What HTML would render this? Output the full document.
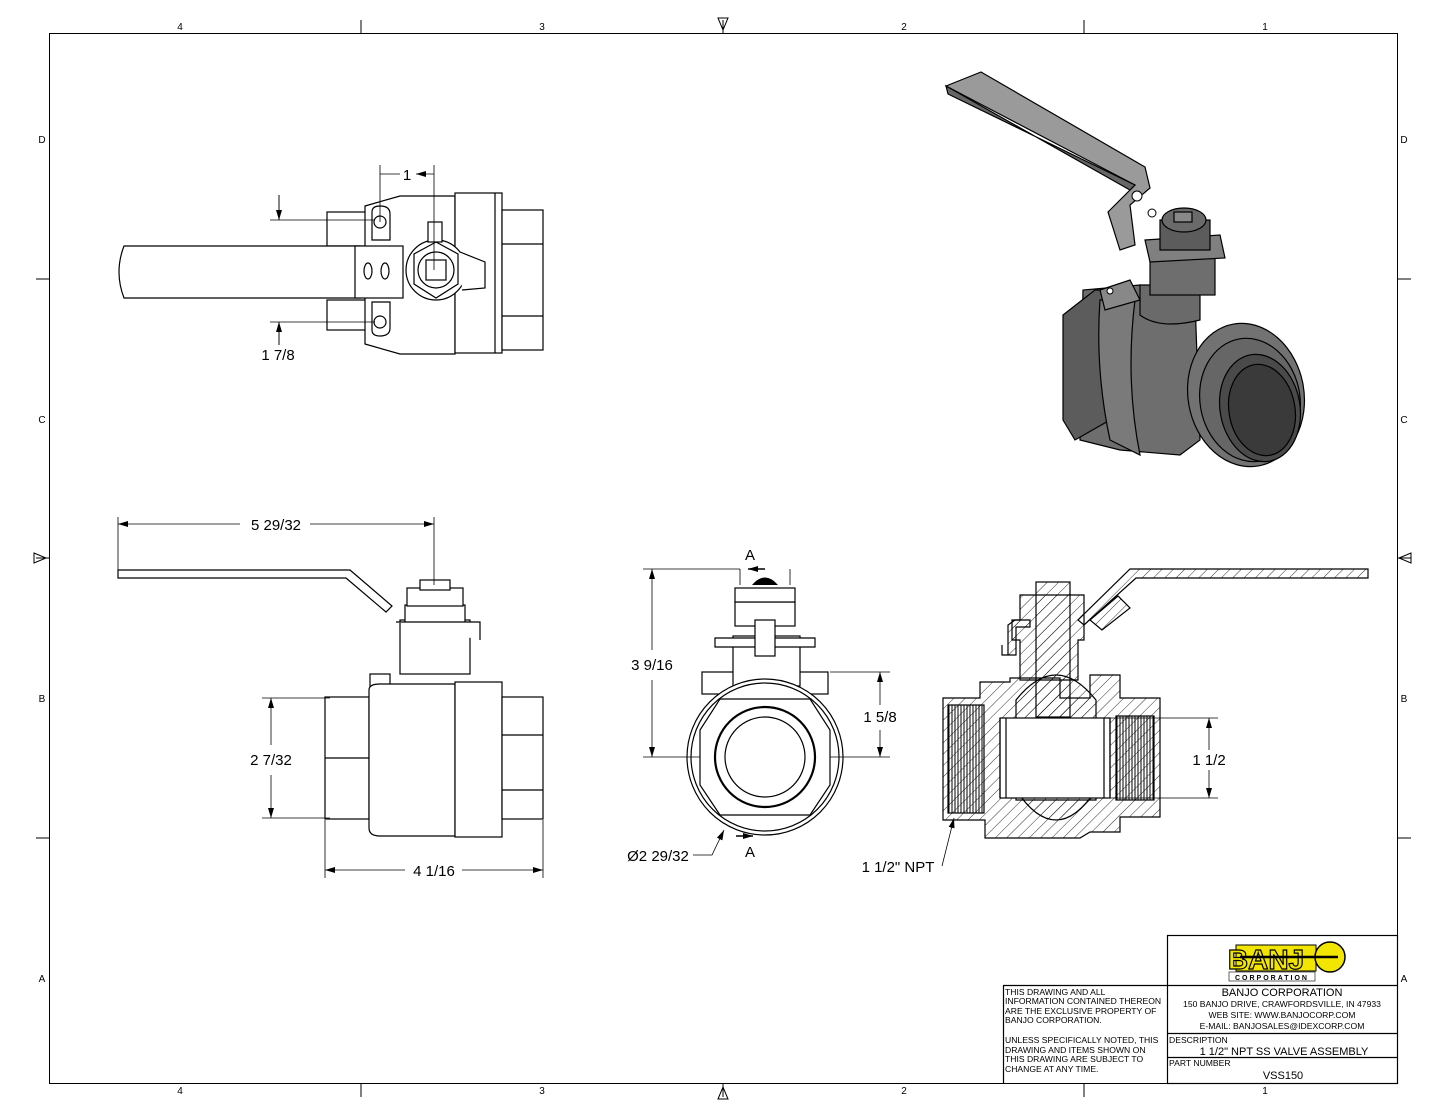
<!DOCTYPE html>
<html><head><meta charset="utf-8"><style>
html,body{margin:0;padding:0;background:#fff}
svg{display:block;font-family:"Liberation Sans",sans-serif}
</style></head><body>
<svg width="1445" height="1117" viewBox="0 0 1445 1117" xmlns="http://www.w3.org/2000/svg">
<defs>
<pattern id="h" width="8" height="8" patternUnits="userSpaceOnUse" patternTransform="rotate(45)"><line x1="0" y1="0" x2="0" y2="8" stroke="#000" stroke-width="0.8"/></pattern>
<pattern id="th" width="3" height="6" patternUnits="userSpaceOnUse"><line x1="1" y1="0" x2="1" y2="6" stroke="#000" stroke-width="1"/></pattern>
<marker id="a" markerWidth="10" markerHeight="6" refX="10" refY="3" orient="auto-start-reverse" markerUnits="userSpaceOnUse"><path d="M0,0L10,3L0,6z" fill="#000"/></marker>
</defs>
<g fill="none" stroke="#000" stroke-width="1">
<rect x="49.5" y="33.5" width="1348" height="1050"/>
<path d="M361,20V33M723,20V33M1084,20V33M361,1083V1097M723,1083V1097M1084,1083V1097M36,279H49M36,558H49M36,838H49M1397,279H1411M1397,558H1411M1397,838H1411"/>
<path d="M718,18L723,30L728,18ZM718,1099L723,1087L728,1099ZM34,553L46,558L34,563ZM1411,553L1399,558L1411,563Z"/>
</g>
<g font-size="10" text-anchor="middle">
<text x="180" y="30">4</text><text x="542" y="30">3</text><text x="904" y="30">2</text><text x="1265" y="30">1</text>
<text x="180" y="1094">4</text><text x="542" y="1094">3</text><text x="904" y="1094">2</text><text x="1265" y="1094">1</text>
<text x="42" y="143">D</text><text x="42" y="423">C</text><text x="42" y="702">B</text><text x="42" y="982">A</text>
<text x="1404" y="143">D</text><text x="1404" y="423">C</text><text x="1404" y="702">B</text><text x="1404" y="982">A</text>
</g>

<!-- TOP VIEW -->
<g fill="#fff" stroke="#000" stroke-width="1.2">
<rect x="327" y="212" width="40" height="34"/><rect x="327" y="300" width="40" height="30"/>
<path d="M365,206L400,196H455V354H400L365,344Z"/>
<rect x="455" y="193" width="47" height="160"/>
<line x1="495" y1="193" x2="495" y2="353"/>
<rect x="502" y="210" width="41" height="140"/>
<line x1="502" y1="244" x2="543" y2="244"/><line x1="502" y1="316" x2="543" y2="316"/>
<path d="M372,212Q372,206 380,206Q390,206 390,214V240H372Z"/>
<path d="M372,330Q372,336 380,336Q390,336 390,328V302H372Z"/>
<path d="M124,246H360V298H124Q114,272 124,246Z"/>
<rect x="355" y="246" width="48" height="52"/>
<circle cx="380" cy="222" r="6"/><circle cx="380" cy="322" r="6"/>
<ellipse cx="368" cy="271" rx="4" ry="8"/><ellipse cx="385" cy="271" rx="4" ry="8"/>
<circle cx="436" cy="270" r="30"/>
<path d="M436,242L458,254V284L436,298L414,284V254Z"/>
<circle cx="436" cy="270" r="18"/><rect x="426" y="260" width="20" height="20"/>
<rect x="428" y="222" width="14" height="20"/>
<path d="M460,252L485,262V288L462,290"/>
</g>
<g fill="none" stroke="#000" stroke-width="0.8">
<path d="M380,165V222M434,165V270M270,220H375M270,322H375M279,195V220M279,345V322"/>
<path d="M380,174H400M434,174H416" marker-end="url(#a)"/>
<line x1="279" y1="195" x2="279" y2="220" marker-end="url(#a)"/>
<line x1="279" y1="345" x2="279" y2="322" marker-end="url(#a)"/>
</g>
<text x="407" y="180" font-size="15" text-anchor="middle">1</text>
<text x="278" y="360" font-size="15" text-anchor="middle">1 7/8</text>

<!-- SIDE VIEW -->
<g fill="#fff" stroke="#000" stroke-width="1.2">
<path d="M118,570H350L392,606L386,612L346,578H118Z"/>
<rect x="400" y="620" width="70" height="54"/>
<rect x="405" y="605" width="60" height="18"/><rect x="407" y="588" width="56" height="18"/>
<rect x="420" y="580" width="30" height="10"/>
<path d="M396,622H480V640"/>
<rect x="370" y="674" width="20" height="18"/>
<rect x="325" y="697" width="44" height="122"/>
<line x1="325" y1="758" x2="369" y2="758"/>
<path d="M369,690Q369,684 380,684H455V836H380Q369,836 369,828Z"/>
<rect x="455" y="682" width="47" height="155"/>
<rect x="502" y="697" width="41" height="122"/>
<line x1="502" y1="735" x2="543" y2="735"/><line x1="502" y1="790" x2="543" y2="790"/>
</g>
<g fill="none" stroke="#000" stroke-width="0.8">
<path d="M118,517V572M434,517V585M262,698H330M262,818H330M325,820V878M543,820V878"/>
<line x1="240" y1="524" x2="118" y2="524" marker-end="url(#a)"/>
<line x1="310" y1="524" x2="434" y2="524" marker-end="url(#a)"/>
<line x1="271" y1="745" x2="271" y2="698" marker-end="url(#a)"/>
<line x1="271" y1="775" x2="271" y2="818" marker-end="url(#a)"/>
<line x1="405" y1="870" x2="325" y2="870" marker-end="url(#a)"/>
<line x1="462" y1="870" x2="543" y2="870" marker-end="url(#a)"/>
</g>
<text x="276" y="530" font-size="15" text-anchor="middle">5 29/32</text>
<text x="271" y="765" font-size="15" text-anchor="middle" fill="#000" stroke="#fff" stroke-width="6" paint-order="stroke">2 7/32</text>
<text x="434" y="876" font-size="15" text-anchor="middle">4 1/16</text>

<!-- FRONT VIEW -->
<g fill="#fff" stroke="#000" stroke-width="1.2">
<rect x="702" y="672" width="126" height="22"/>
<rect x="733" y="636" width="67" height="50"/>
<path d="M715,638H815V647H715Z"/>
<rect x="735" y="602" width="60" height="24"/><rect x="735" y="588" width="60" height="14"/>
<rect x="755" y="620" width="20" height="36"/>
<circle cx="765" cy="757" r="78"/><circle cx="765" cy="757" r="74"/>
<path d="M720,699L810,699L830,730L830,785L810,815L720,815L700,785L700,730Z"/>
<circle cx="765" cy="757" r="50" stroke-width="2.2"/><circle cx="765" cy="757" r="40"/>
</g>
<path d="M752,585Q765,570 778,585Z" fill="#000"/>
<g fill="none" stroke="#000" stroke-width="0.8">
<path d="M643,569H740M643,757H700M830,672H890M830,757H890M740,569V585M790,569V585"/>
<line x1="652" y1="650" x2="652" y2="569" marker-end="url(#a)"/>
<line x1="652" y1="680" x2="652" y2="757" marker-end="url(#a)"/>
<line x1="880" y1="705" x2="880" y2="672" marker-end="url(#a)"/>
<line x1="880" y1="730" x2="880" y2="757" marker-end="url(#a)"/>
<line x1="765" y1="569" x2="748" y2="569" marker-end="url(#a)" stroke-width="1.5"/>
<line x1="736" y1="836" x2="753" y2="836" marker-end="url(#a)" stroke-width="1.5"/>
<path d="M693,855H712L724,830" marker-end="url(#a)"/>
</g>
<text x="750" y="560" font-size="15" text-anchor="middle">A</text>
<text x="750" y="857" font-size="15" text-anchor="middle">A</text>
<text x="652" y="670" font-size="15" text-anchor="middle" fill="#000" stroke="#fff" stroke-width="6" paint-order="stroke">3 9/16</text>
<text x="880" y="722" font-size="15" text-anchor="middle" fill="#000" stroke="#fff" stroke-width="6" paint-order="stroke">1 5/8</text>
<text x="658" y="861" font-size="15" text-anchor="middle">Ø2 29/32</text>

<!-- SECTION VIEW -->
<g stroke="#000" stroke-width="1.2" fill="url(#h)">
<path d="M1130,569H1368V578H1136L1084,625L1078,620Z"/>
<path d="M1090,620L1118,596L1130,608L1102,630Z"/>
<path d="M1002,645V655H1008V625L1015,620H1030V627H1016V655H1002"/>
<path d="M1020,595H1084V640H1078V680H1020V640H1012V620H1020Z"/>
<path d="M943,698H980V682H1010V678H1060V698H1090V675H1120V698H1160V817H1120V832H1090L1080,838H985V820H943Z"/>
<path d="M1016,700Q1056,650 1096,700V725H1016Z"/>
<path d="M1016,790Q1056,850 1096,790V800H1016Z"/>
</g>
<g stroke="#000" stroke-width="1.2">
<rect x="1036" y="582" width="34" height="135" fill="url(#h)"/>
<rect x="1000" y="718" width="110" height="80" fill="#fff"/>
<rect x="948" y="705" width="36" height="108" fill="url(#th)"/>
<rect x="1116" y="716" width="38" height="84" fill="url(#th)"/>
<path d="M1000,718V798M1006,718V798M1104,718V798M1110,718V798" fill="none"/>
</g>
<g fill="none" stroke="#000" stroke-width="0.8">
<path d="M1110,718H1218M1110,798H1218"/>
<line x1="1209" y1="750" x2="1209" y2="718" marker-end="url(#a)"/>
<line x1="1209" y1="770" x2="1209" y2="798" marker-end="url(#a)"/>
<path d="M942,866L954,818" marker-end="url(#a)"/>
</g>
<text x="1209" y="765" font-size="15" text-anchor="middle" fill="#000" stroke="#fff" stroke-width="6" paint-order="stroke">1 1/2</text>
<text x="898" y="872" font-size="15" text-anchor="middle">1 1/2" NPT</text>

<!-- 3D VIEW -->
<g stroke="#000" stroke-width="1.2">
<path d="M946,86L981,72L1145,167L1150,188L1130,205L1135,245L1120,250L1108,212L1135,185Z" fill="#9a9a9a"/>
<path d="M946,86L1130,190L1135,185L948,94Z" fill="#666"/>
<path d="M1083,290L1080,440L1120,450L1180,455L1200,440L1195,300L1140,285Z" fill="#6e6e6e"/>
<path d="M1063,315L1095,290L1120,290L1110,420L1075,440L1063,420Z" fill="#5c5c5c"/>
<path d="M1100,300Q1095,370 1110,440L1140,455Q1125,380 1135,300Z" fill="#7a7a7a"/>
<path d="M1140,285H1200V320Q1160,330 1140,315Z" fill="#6a6a6a"/>
<path d="M1100,290L1130,280L1140,300L1105,310Z" fill="#888"/>
<ellipse cx="1246" cy="395" rx="58" ry="72" fill="#727272" transform="rotate(-10 1246 395)"/>
<ellipse cx="1250" cy="400" rx="50" ry="62" fill="#666" transform="rotate(-10 1250 400)"/>
<ellipse cx="1260" cy="408" rx="40" ry="54" fill="#4a4a4a" transform="rotate(-10 1260 408)"/>
<ellipse cx="1262" cy="410" rx="33" ry="46" fill="#3a3a3a" transform="rotate(-10 1262 410)"/>
<rect x="1150" y="250" width="65" height="45" fill="#6e6e6e"/>
<path d="M1145,240L1220,235L1225,258L1150,262Z" fill="#808080"/>
<rect x="1160" y="220" width="50" height="30" fill="#5c5c5c"/>
<ellipse cx="1184" cy="220" rx="22" ry="12" fill="#6a6a6a"/>
<rect x="1174" y="212" width="18" height="10" fill="#888"/>
</g>
<circle cx="1137" cy="196" r="5" fill="#fff" stroke="#000"/>
<circle cx="1152" cy="213" r="4" fill="#fff" stroke="#000"/>
<circle cx="1110" cy="291" r="3" fill="#fff" stroke="#000"/>

<!-- TITLE BLOCK -->
<g fill="none" stroke="#000" stroke-width="1.2">
<rect x="1167.5" y="935.5" width="230" height="148"/>
<path d="M1003,985.5H1397M1003.5,985V1083M1167,1033.5H1397M1167,1057.5H1397"/>
</g>
<g>
<rect x="1236" y="945" width="80" height="26" fill="#f2e600" stroke="#000"/>
<text x="1266" y="969" font-size="28" font-weight="bold" text-anchor="middle" fill="#f2e600" stroke="#000" stroke-width="1.2">BANJ</text>
<circle cx="1330" cy="957" r="15" fill="#f2e600" stroke="#000" stroke-width="1.5"/>
<line x1="1240" y1="957" x2="1338" y2="957" stroke="#000" stroke-width="2.5"/>
<rect x="1229" y="972" width="86" height="9" fill="#fff" stroke="#000" stroke-width="0.6"/>
<text x="1272" y="980" font-size="7" font-weight="bold" text-anchor="middle" letter-spacing="2">CORPORATION</text>
</g>
<g font-size="8.6">
<text x="1005" y="995">THIS DRAWING AND ALL</text>
<text x="1005" y="1004">INFORMATION CONTAINED THEREON</text>
<text x="1005" y="1014">ARE THE EXCLUSIVE PROPERTY OF</text>
<text x="1005" y="1023">BANJO CORPORATION.</text>
<text x="1005" y="1043">UNLESS SPECIFICALLY NOTED, THIS</text>
<text x="1005" y="1053">DRAWING AND ITEMS SHOWN ON</text>
<text x="1005" y="1062">THIS DRAWING ARE SUBJECT TO</text>
<text x="1005" y="1072">CHANGE AT ANY TIME.</text>
<text x="1169" y="1043">DESCRIPTION</text>
<text x="1169" y="1066">PART NUMBER</text>
</g>
<g text-anchor="middle">
<text x="1282" y="996" font-size="11">BANJO CORPORATION</text>
<text x="1282" y="1007" font-size="8.6">150 BANJO DRIVE, CRAWFORDSVILLE, IN 47933</text>
<text x="1282" y="1018" font-size="8.6">WEB SITE: WWW.BANJOCORP.COM</text>
<text x="1282" y="1029" font-size="8.6">E-MAIL: BANJOSALES@IDEXCORP.COM</text>
<text x="1284" y="1055" font-size="11">1 1/2" NPT SS VALVE ASSEMBLY</text>
<text x="1283" y="1079" font-size="11">VSS150</text>
</g>
</svg>
</body></html>
